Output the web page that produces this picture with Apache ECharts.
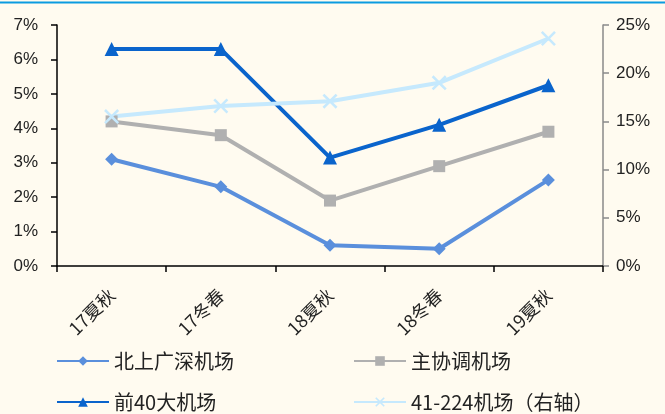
<!DOCTYPE html>
<html>
<head>
<meta charset="utf-8">
<script src="https://cdn.jsdelivr.net/npm/echarts@6/dist/echarts.min.js"></script>
<style>
  html, body { margin: 0; padding: 0; background: #fffbf0; }
  #chart { width: 665px; height: 414px; }
</style>
</head>
<body>
<div id="chart"></div>
<script>
// Categories (seasons) and series values, in percent
const categories = ['17夏秋', '17冬春', '18夏秋', '18冬春', '19夏秋'];
const bigFour = [3.1, 2.3, 0.6, 0.5, 2.5];        // 北上广深机场
const coordinated = [4.2, 3.8, 1.9, 2.9, 3.9];    // 主协调机场
const top40 = [6.3, 6.3, 3.15, 4.1, 5.25];        // 前40大机场
const rank41to224 = [15.5, 16.6, 17.1, 19.0, 23.6]; // 41-224机场 (right axis)

const seriesNames = ['北上广深机场', '主协调机场', '前40大机场', '41-224机场（右轴）'];

// X-shaped marker as a filled polygon
const crossPath = 'path://M0,1.2L1.2,0L5,3.8L8.8,0L10,1.2L6.2,5L10,8.8L8.8,10L5,6.2L1.2,10L0,8.8L3.8,5Z';

const chart = echarts.init(document.getElementById('chart'));
const textFont = '"Liberation Sans", Arial, "Noto Sans CJK SC", sans-serif';
const cjkFont = '"Noto Sans CJK SC", sans-serif';

// One legend block per series, laid out as a 2x2 grid
const legendSlots = [
  { name: seriesNames[0], left: 56, top: 351 },
  { name: seriesNames[1], left: 353, top: 351 },
  { name: seriesNames[2], left: 56, top: 392 },
  { name: seriesNames[3], left: 353, top: 392 }
];

chart.setOption({
  backgroundColor: '#fffbf0',
  animation: false,
  graphic: [{
    type: 'rect',
    shape: { x: 0, y: 1.5, width: 665, height: 2 },
    style: { fill: '#0b9be0' }
  }],
  grid: { left: 57, right: 62, top: 25, bottom: 148 },
  legend: legendSlots.map(s => ({
    data: [s.name],
    left: s.left, top: s.top,
    padding: 0,
    itemWidth: 52, itemHeight: 12, itemGap: 6,
    textStyle: { fontSize: 20, color: '#222', fontFamily: cjkFont }
  })),
  xAxis: {
    type: 'category',
    data: categories,
    boundaryGap: true,
    axisLine: { lineStyle: { color: '#000', width: 1.5 } },
    axisTick: { show: true, length: 6, alignWithLabel: false, lineStyle: { color: '#000', width: 1.5 } },
    axisLabel: {
      rotate: 45, margin: 26, fontSize: 18, color: '#222',
      fontFamily: cjkFont
    }
  },
  yAxis: [{
    type: 'value',
    min: 0, max: 7, interval: 1,
    axisLine: { show: true, lineStyle: { color: '#000', width: 1.5 } },
    axisTick: { show: true, length: 6, lineStyle: { color: '#000', width: 1.5 } },
    splitLine: { show: false },
    axisLabel: { formatter: '{value}%', fontSize: 17, color: '#222', margin: 19, fontFamily: textFont }
  }, {
    type: 'value',
    min: 0, max: 25, interval: 5,
    position: 'right',
    axisLine: { show: true, lineStyle: { color: '#8a8a8a', width: 1.5 } },
    axisTick: { show: true, length: 6, lineStyle: { color: '#8a8a8a', width: 1.5 } },
    splitLine: { show: false },
    axisLabel: { formatter: '{value}%', fontSize: 17, color: '#222', margin: 13, fontFamily: textFont }
  }],
  series: [{
    name: seriesNames[0], type: 'line', data: bigFour,
    symbol: 'diamond', symbolSize: 13,
    lineStyle: { color: '#5a8fdc', width: 4 },
    itemStyle: { color: '#5a8fdc' }
  }, {
    name: seriesNames[1], type: 'line', data: coordinated,
    symbol: 'rect', symbolSize: 12,
    lineStyle: { color: '#b0b0b0', width: 4 },
    itemStyle: { color: '#b0b0b0' }
  }, {
    name: seriesNames[2], type: 'line', data: top40,
    symbol: 'triangle', symbolSize: 14,
    lineStyle: { color: '#0a64cc', width: 4 },
    itemStyle: { color: '#0a64cc' }
  }, {
    name: seriesNames[3], type: 'line', data: rank41to224, yAxisIndex: 1,
    symbol: crossPath, symbolSize: 15,
    lineStyle: { color: '#c6e9fd', width: 4 },
    itemStyle: { color: '#c6e9fd' }
  }]
});
</script>
</body>
</html>
